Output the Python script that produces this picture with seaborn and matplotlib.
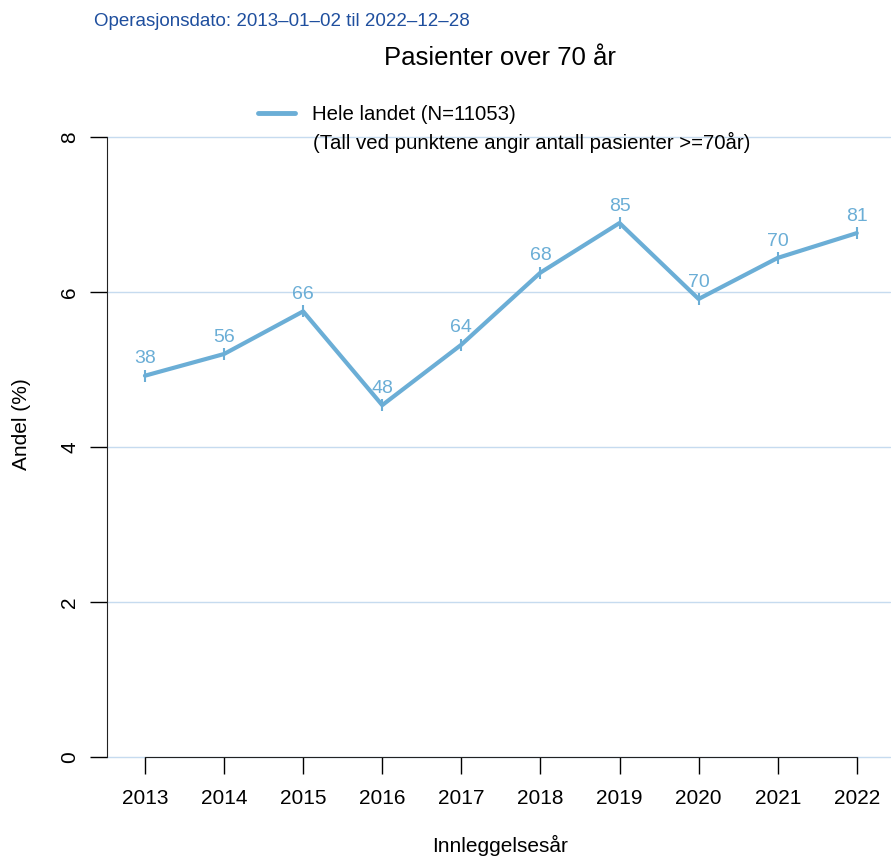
import matplotlib
matplotlib.use("Agg")
import matplotlib.pyplot as plt
import seaborn as sns
import pandas as pd

years = [2013, 2014, 2015, 2016, 2017, 2018, 2019, 2020, 2021, 2022]
andel = [4.92, 5.20, 5.75, 4.54, 5.32, 6.25, 6.89, 5.91, 6.44, 6.76]
antall = [38, 56, 66, 48, 64, 68, 85, 70, 70, 81]
yticks = [0, 2, 4, 6, 8]

sns.set_style("white")
plt.rcParams['font.family'] = ['Liberation Sans', 'DejaVu Sans']
plt.rcParams['text.color'] = 'black'
plt.rcParams['xtick.color'] = 'black'
plt.rcParams['ytick.color'] = 'black'

W, H = 891, 857
fig = plt.figure(figsize=(W / 100, H / 100), dpi=100)
left, right, bottom, top = 107, 890, 757, 137
ax = fig.add_axes([left / W, 1 - bottom / H, (right - left) / W, (bottom - top) / H])

LINE = "#6baed6"
GRID = "#c6dbef"

df = pd.DataFrame({"year": years, "andel": andel})
sns.lineplot(data=df, x="year", y="andel", ax=ax, color=LINE, linewidth=3,
             marker="|", markersize=9, markeredgewidth=1.5, markeredgecolor=LINE,
             label="Hele landet (N=11053)", zorder=3)

for x, y, n in zip(years, andel, antall):
    ax.annotate(str(n), (x, y), xytext=(0, 6), textcoords="offset points",
                ha="center", va="bottom", color=LINE, fontsize=14, clip_on=False)

ax.set_xlim(2012.52, 2022.42)
ax.set_ylim(0, 8)
for t in yticks:
    ax.axhline(t, color=GRID, linewidth=1, zorder=0, clip_on=False)

ax.set_xticks(years)
ax.set_xticklabels([str(y) for y in years], fontsize=15)
ax.set_yticks(yticks)
ax.set_yticklabels([str(t) for t in yticks], fontsize=15, rotation=90, va="center")
ax.tick_params(axis="x", direction="out", length=12, width=1, pad=11, colors="black")
ax.tick_params(axis="y", direction="out", length=12, width=1, pad=8, colors="black")
ax.tick_params(axis="both", bottom=True, left=True)

for s in ["top", "right"]:
    ax.spines[s].set_visible(False)
ax.spines["left"].set_color("#222222")
ax.spines["bottom"].set_color("#222222")
ax.spines["bottom"].set_bounds(2013, 2022)
ax.set_xlabel("")
ax.set_ylabel("")

leg = ax.legend(loc="upper left", bbox_to_anchor=((250 - left) / (right - left), 1 + 40 / 620),
                frameon=False, fontsize=14.7, handlelength=1.8, handletextpad=0.85,
                borderaxespad=0)
for line in leg.get_lines():
    line.set_marker("")
    line.set_linewidth(3.5)
fig.text(313 / W, 1 - 142 / H, "(Tall ved punktene angir antall pasienter >=70år)",
         fontsize=14.7, ha="left", va="center")

fig.text(94 / W, 1 - 22 / H, "Operasjonsdato: 2013\u201301\u201302 til 2022\u201312\u201328",
         fontsize=13.5, color="#1f4f9e", ha="left", va="center")
fig.text(500 / W, 1 - 58 / H, "Pasienter over 70 år", fontsize=18.5, ha="center", va="center")
fig.text(22 / W, 1 - 424 / H, "Andel (%)", fontsize=15, rotation=90, ha="center", va="center")
fig.text(500 / W, 1 - 845 / H, "Innleggelsesår", fontsize=15, ha="center", va="center")

fig.savefig("out.png", dpi=100)
